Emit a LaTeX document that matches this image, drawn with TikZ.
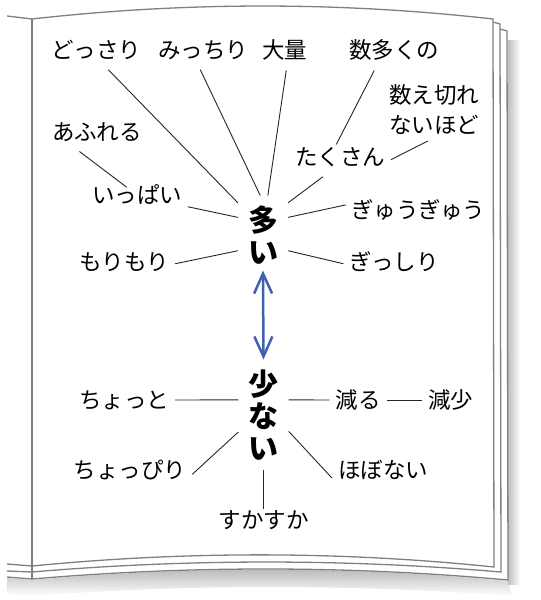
\documentclass[tikz,border=0pt]{standalone}
\usepackage{fontspec}
\newfontfamily\jpfont{Noto Sans CJK JP}
\usetikzlibrary{arrows.meta}
\definecolor{pagegray}{HTML}{808080}
\definecolor{arrowblue}{HTML}{3F62AE}

\begin{document}
\begin{tikzpicture}[%
		x=1pt,
		y=-1pt,
		word/.style={%
			font=\jpfont\fontsize{22.5}{30}\selectfont,
			inner sep=0pt,
			outer xsep=6pt,
			outer ysep=10pt,
			align=center
		},
		core/.style={%
			font=\jpfont\bfseries\fontsize{30}{32}\selectfont,
			inner xsep=10pt,
			inner ysep=10pt,
			align=center
		},
		page/.style={draw=pagegray, line width=1.3pt, fill=white},
		link/.style={draw=black!85, line width=0.9pt},
		barb/.tip={Straight Barb[length=20pt, width=18pt]}
		]
		\useasboundingbox (0,0) rectangle (541,600);
		
		% shadows under the pages
		\shade[top color=black!30, bottom color=white] (7,578) -- (32,580) .. controls (190,566) and (350,566) .. (508,581) -- (512,596) .. controls (350,584) and (190,584) .. (32,596) -- (7,594) -- cycle;
		\shade[left color=black!25, right color=white] (508,40) rectangle (520,584);
		
		% left page
		\draw[pagegray, line width=1.3pt] (7,16) -- (32,19);
		\draw[pagegray, line width=1.3pt] (7,564) -- (32,566);
		\draw[pagegray, line width=1.3pt] (7,571) -- (32,572);
		\draw[pagegray, line width=1.3pt] (7,577) -- (32,579);
		
		% pages of the right side
		\path[page] (32,30) -- (500,29) -- (507,31) -- (508,580) .. controls (349,565.5) and (190,565.5) .. (32,579) -- cycle;
		\path[page] (32,22) -- (493,22) -- (500,24) -- (501,572) .. controls (345,558.7) and (188,558.7) .. (32,572) -- cycle;
		\path[page] (32,19) .. controls (186,1.7) and (340,1.7) .. (493,19) -- (494,567) .. controls (340,551) and (186,551) .. (32,566) -- cycle;
		\draw[pagegray, line width=1.3pt] (32,19) -- (32,579);
		
		% words
		\node[core] (ooi)      at (263,235)   {多\\い};
		\node[core] (sukunai)  at (263.5,415) {少\\な\\い};
		
		\node[word] (dossari)  at (96,50)     {どっさり};
		\node[word] (micchiri) at (203,50)    {みっちり};
		\node[word] (tairyou)  at (284.5,50)  {大量};
		\node[word] (kazuooku) at (394,50)    {数多くの};
		\node[word] (kazoe)    at (434,110)   {数え切れ\\ないほど};
		\node[word] (afureru)  at (97,132)    {あふれる};
		\node[word] (takusan)  at (340,157)   {たくさん};
		\node[word] (ippai)    at (137,195)   {いっぱい};
		\node[word] (gyuugyuu) at (418.5,210) {ぎゅうぎゅう};
		\node[word] (morimori) at (124,262)   {もりもり};
		\node[word] (gisshiri) at (394,262)   {ぎっしり};
		
		\node[word] (chotto)   at (124,400)   {ちょっと};
		\node[word] (heru)     at (358,400)   {減る};
		\node[word] (genshou)  at (450.5,400) {減少};
		\node[word] (choppiri) at (130,470)   {ちょっぴり};
		\node[word] (hobonai)  at (383,470)   {ほぼない};
		\node[word] (sukasuka) at (263.5,520) {すかすか};
		
		% lines
		\draw[link] (dossari.-58) -- (ooi.128);
		\draw[link] (micchiri.-98) -- (ooi.94);
		\draw[link] (tairyou.-85) -- (ooi.83);
		\draw[link, shorten >=-8pt] (kazuooku.-134) -- (takusan.north);
		\draw[link, shorten <=-9pt] (kazoe.-112) -- (takusan.-3);
		\draw[link, shorten >=13pt] (afureru.-132) -- (ippai.center);
		\draw[link] (takusan.-131) -- (ooi.52);
		\draw[link] (ippai.-13) -- (ooi.145);
		\draw[link] (gyuugyuu.176) -- (ooi.35);
		\draw[link] (morimori.-2) -- (ooi.-148);
		\draw[link] (gisshiri.-178) -- (ooi.-32);
		
		\draw[link] (chotto.east) -- (sukunai.149);
		\draw[link] (sukunai.31) -- (heru.west);
		\draw[link] (heru.east) -- (genshou.west);
		\draw[link] (choppiri.-4) -- (sukunai.-146);
		\draw[link] (hobonai.-171) -- (sukunai.-33);
		\draw[link, shorten >=11pt] (sukunai.south) -- (sukasuka.center);
		
		% the arrow
		\draw[arrowblue, line width=2.5pt, barb-barb, shorten <=-4pt] (ooi.south) -- (sukunai.north);
\end{tikzpicture}
\end{document}
